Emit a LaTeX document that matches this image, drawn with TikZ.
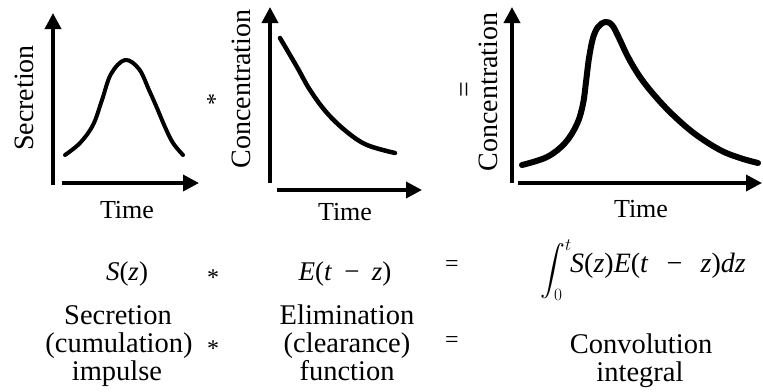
\documentclass[tikz,border=0pt]{standalone}
\usepackage{amsmath}
\usepackage{fontspec}
\setmainfont{Liberation Serif}
\usetikzlibrary{arrows.meta}
\begin{document}
\begin{tikzpicture}[x=1pt,y=-1pt,
  axis/.style={line width=3.6pt,-{Triangle[length=16pt,width=16pt]}},
  curve/.style={line width=#1,line cap=round,line join=round},
  curve/.default=4pt,
  ylab/.style={rotate=90,anchor=base,inner sep=0pt,font=\fontsize{28}{30}\selectfont},
  xlab/.style={anchor=base,inner sep=0pt,font=\fontsize{26}{28}\selectfont},
  txt/.style={anchor=base,inner sep=0pt,font=\fontsize{28.5}{30}\selectfont},
  mth/.style={anchor=base,inner sep=0pt,font=\fontsize{27}{29}\selectfont},
  op/.style={inner sep=0pt,font=\fontsize{24}{26}\selectfont},
]
\useasboundingbox (0,0) rectangle (763,391);

% ---------- panel 1 ----------
\coordinate (v1b) at (53,185); \coordinate (v1t) at (53,13);
\coordinate (h1l) at (62,183); \coordinate (h1r) at (199,183);
\draw[axis] (v1b) -- (v1t);
\draw[axis] (h1l) -- (h1r);
\draw[curve] plot[smooth,tension=0.6] coordinates {(65,155) (80,143) (93,125) (102,100) (111,74) (125,60) (139,69) (149,90) (157,108) (165,127) (173,143) (183,155)};
\node[ylab] (ys1) at (33,98) {Secretion};
\node[xlab] (t1) at (127,218) {Time};

\node[op,rotate=90] (st0) at (215,99) {*};

% ---------- panel 2 ----------
\coordinate (v2b) at (270,183); \coordinate (v2t) at (270,7);
\coordinate (h2l) at (277,190); \coordinate (h2r) at (422,190);
\draw[axis] (v2b) -- (v2t);
\draw[axis] (h2l) -- (h2r);
\draw[curve=4.5pt] plot[smooth,tension=0.6] coordinates {(280,38) (297,67) (310,90) (327,113) (347,132) (367,145) (395,153)};
\node[ylab] (yc2) at (250,89) {Concentration};
\node[xlab] (t2) at (345,220) {Time};

\node[op,rotate=90,font=\fontsize{28}{30}\selectfont] (eq0) at (467,90) {=};

% ---------- panel 3 ----------
\coordinate (v3b) at (512,183); \coordinate (v3t) at (512,7);
\coordinate (h3l) at (518,183); \coordinate (h3r) at (762,183);
\draw[axis] (v3b) -- (v3t);
\draw[axis] (h3l) -- (h3r);
\draw[curve=6pt] plot[smooth,tension=0.6] coordinates {(522,165) (547,157) (565,143) (577,124) (583,104) (586,82) (589,58) (593,38) (598,27) (605,22) (612,25) (619,38) (628,57) (640,77) (655,96) (673,115) (695,134) (720,150) (740,158) (758,163)};
\node[ylab] (yc3) at (497,92) {Concentration};
\node[xlab] (t3) at (641,217) {Time};

% ---------- formula row ----------
\node[mth] (sz) at (127,280) {\textit{S}(\textit{z})};
\node[op] (st1) at (213,278) {*};
\node[mth] (ez) at (345,280) {\textit{E}(\textit{t}\hspace{0.45em}−\hspace{0.45em}\textit{z})};
\node[op] (eq1) at (452,266) {=};
\node[inner sep=0pt] (isg) at (556,270) {\fontsize{26}{26}\selectfont$\displaystyle\int_0^t$};
\node[mth,anchor=base west,font=\fontsize{28}{30}\selectfont] (cf) at (570,272) {\textit{S}(\textit{z})\textit{E}(\textit{t}\hspace{0.65em}−\hspace{0.65em}\textit{z})\textit{dz}};

% ---------- word rows ----------
\node[txt] (sec) at (118,324) {Secretion};
\node[txt] (cum) at (119,352) {(cumulation)};
\node[txt] (imp) at (117,380) {impulse};
\node[op] (st2) at (213,349) {*};
\node[txt] (eli) at (347,324) {Elimination};
\node[txt] (clr) at (347,352) {(clearance)};
\node[txt] (fun) at (347,380) {function};
\node[op] (eq2) at (452,342) {=};
\node[txt] (cnv) at (641,353) {Convolution};
\node[txt] (itg) at (640,381) {integral};
\end{tikzpicture}
\end{document}
